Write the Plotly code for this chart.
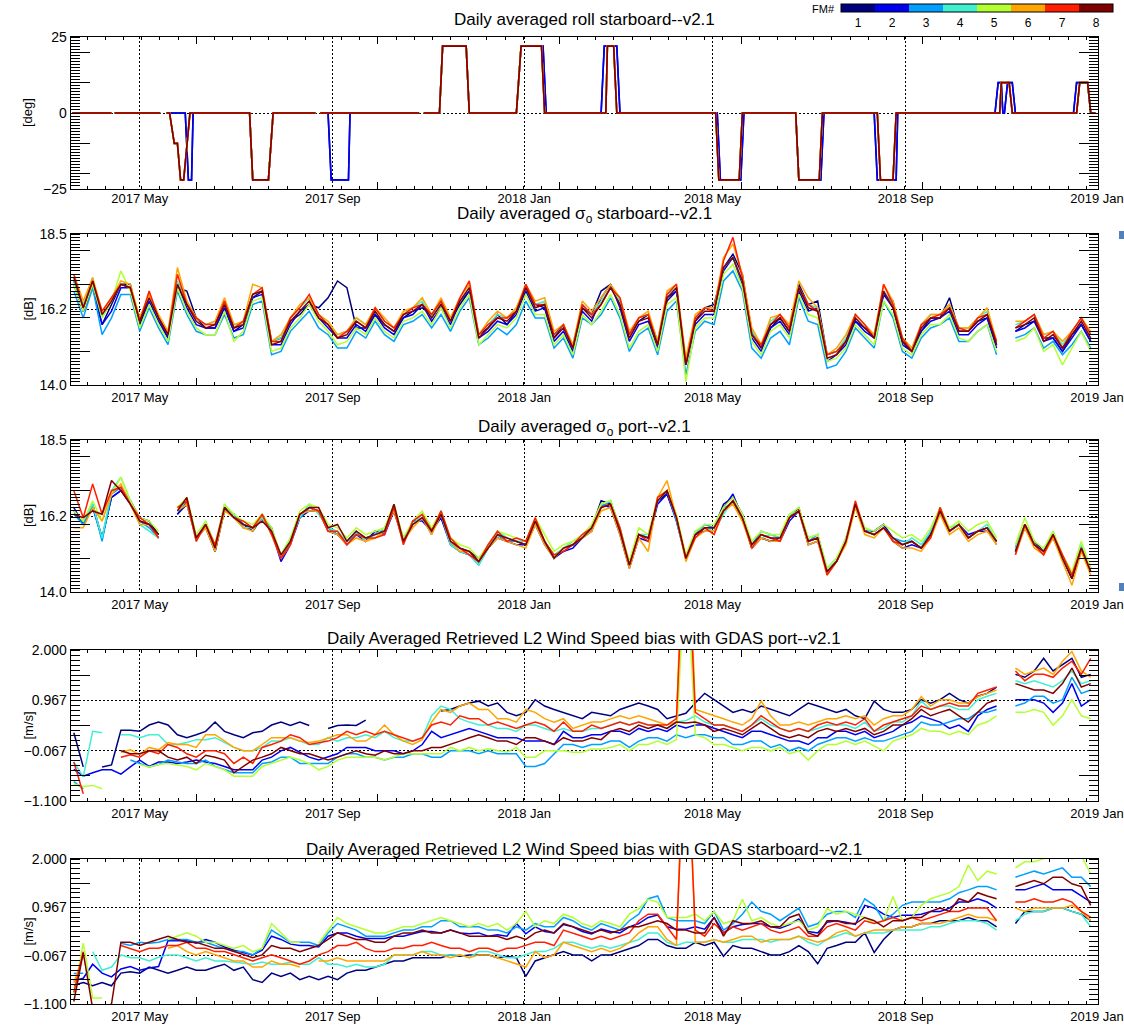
import plotly.graph_objects as go
import pandas as pd

N = None
W, H = 1124, 1025

# ---------------- categories / tick labels ----------------
fm_labels = ['1', '2', '3', '4', '5', '6', '7', '8']
fm_colors = ['#00007F', '#0000F0', '#00A0FF', '#40F0D0', '#B4FF32', '#FFA500', '#FF1E00', '#800000']
month_ticks = ['2017-05-01', '2017-09-01', '2018-01-01', '2018-05-01', '2018-09-01', '2019-01-01']
month_labels = ['2017 May', '2017 Sep', '2018 Jan', '2018 May', '2018 Sep', '2019 Jan']
x_range = ['2017-03-18', '2019-01-01 12:00']

# sampled days (every 6 days) for the noisy daily series
dates = pd.date_range('2017-03-20', periods=109, freq='6D')

# ---------------- roll (deg) ----------------
roll_dates_fm12 = ['2017-03-19', '2017-04-13', '2017-04-14', '2017-04-15', '2017-05-14', '2017-05-16', '2017-05-18', '2017-05-30', '2017-06-01', '2017-06-03',
                   '2017-06-04', '2017-07-10', '2017-07-12', '2017-07-22', '2017-07-25', '2017-08-21', '2017-08-22', '2017-08-24', '2017-08-29', '2017-08-31',
                   '2017-09-11', '2017-09-12', '2017-10-26', '2017-10-27', '2017-10-29', '2017-11-08', '2017-11-10', '2017-11-25', '2017-11-27', '2017-12-27',
                   '2017-12-30', '2018-01-13', '2018-01-15', '2018-02-19', '2018-02-21', '2018-03-01', '2018-03-03', '2018-05-04', '2018-05-06', '2018-05-19',
                   '2018-05-21', '2018-06-23', '2018-06-25', '2018-07-09', '2018-07-11', '2018-08-12', '2018-08-14', '2018-08-26', '2018-08-27', '2018-10-28',
                   '2018-10-30', '2018-11-01', '2018-11-02', '2018-11-03', '2018-11-05', '2018-11-08', '2018-11-10', '2018-12-17', '2018-12-19', '2018-12-26',
                   '2018-12-28', '2018-12-31']
roll_vals_fm12 = [0, 0, N, 0, 0, N, 0, 0, -22, -22,
                  0, 0, -22, -22, 0, 0, N, 0, 0, -22,
                  -22, 0, 0, N, 0, 0, 22, 22, 0, 0,
                  22, 22, 0, 0, 22, 22, 0, 0, -22, -22,
                  0, 0, -22, -22, 0, 0, -22, -22, 0, 0,
                  10, 10, 0, 0, 10, 10, 0, 0, 10, 10,
                  0, 0]
roll_dates_fm38 = ['2017-03-19', '2017-04-13', '2017-04-14', '2017-04-15', '2017-05-14', '2017-05-16', '2017-05-18', '2017-05-20', '2017-05-23', '2017-05-25',
                   '2017-05-27', '2017-05-29', '2017-06-02', '2017-07-10', '2017-07-12', '2017-07-22', '2017-07-25', '2017-08-21', '2017-08-22', '2017-08-24',
                   '2017-10-26', '2017-10-27', '2017-10-29', '2017-11-08', '2017-11-10', '2017-11-25', '2017-11-27', '2017-12-27', '2017-12-30', '2018-01-12',
                   '2018-01-14', '2018-02-22', '2018-02-23', '2018-02-27', '2018-03-01', '2018-05-03', '2018-05-05', '2018-05-18', '2018-05-20', '2018-06-23',
                   '2018-06-25', '2018-07-08', '2018-07-10', '2018-08-14', '2018-08-16', '2018-08-24', '2018-08-26', '2018-10-31', '2018-11-01', '2018-11-06',
                   '2018-11-08', '2018-12-19', '2018-12-21', '2018-12-26', '2018-12-28', '2018-12-31']
roll_vals_fm38 = [0, 0, N, 0, 0, N, 0, 0, -10, -10,
                  -22, -22, 0, 0, -22, -22, 0, 0, N, 0,
                  0, N, 0, 0, 22, 22, 0, 0, 22, 22,
                  0, 0, 22, 22, 0, 0, -22, -22, 0, 0,
                  -22, -22, 0, 0, -22, -22, 0, 0, 10, 10,
                  0, 0, 10, 10, 0, 0]

# ---------------- sigma0 starboard (dB) ----------------
sig_stbd_fm1 = [17.0,16.2,16.9,15.8,16.4,17.0,17.0,15.8,16.5,16.0,
                15.4,16.9,16.8,16.0,15.7,15.7,16.3,15.6,15.8,16.6,
                16.8,15.3,15.4,15.9,16.1,16.4,16.3,16.6,17.1,16.9,
                15.7,15.7,16.1,15.8,15.6,16.0,16.2,16.3,16.1,16.4,
                15.9,16.4,16.8,15.5,15.7,16.1,15.8,16.2,16.9,16.4,
                16.3,15.4,15.8,15.1,16.3,16.1,16.8,17.0,16.4,15.5,
                15.9,16.1,15.3,16.5,16.8,14.7,15.9,16.3,16.4,17.5,
                17.9,17.3,15.6,15.1,15.7,16.0,15.6,17.0,16.4,16.5,
                14.9,15.0,15.3,15.9,15.7,15.5,16.7,16.5,15.3,15.0,
                15.6,16.0,16.0,16.6,15.6,15.6,15.9,16.0,15.2,N,
                15.6,15.8,15.9,15.4,15.4,15.0,15.5,15.8,15.3]
sig_stbd_fm2 = [17.1,16.2,17.0,15.8,16.2,16.9,16.9,15.9,16.5,15.9,
                15.4,17.0,16.3,15.8,15.7,15.7,16.3,15.6,15.7,16.6,
                16.7,15.2,15.2,15.8,16.2,16.4,16.0,15.7,15.4,15.4,
                15.8,15.6,16.1,15.7,15.5,16.0,16.1,16.4,15.9,16.3,
                15.8,16.5,16.8,15.4,15.6,15.9,15.8,16.1,16.8,16.2,
                16.3,15.3,15.6,15.0,16.2,15.9,16.6,17.0,16.3,15.3,
                15.8,15.9,15.1,16.6,16.8,14.6,15.8,16.1,16.1,17.4,
                17.8,17.0,15.4,15.0,15.7,15.9,15.5,16.8,16.2,16.3,
                14.7,14.9,15.2,15.9,15.6,15.4,16.7,16.3,15.2,15.0,
                15.6,15.9,16.0,16.2,15.5,15.5,15.8,16.0,15.1,N,
                15.6,15.7,15.9,15.3,15.4,15.0,15.4,15.8,15.3]
sig_stbd_fm3 = [16.8,16.0,16.9,15.5,16.0,16.7,16.7,15.6,16.3,15.7,
                15.2,16.8,16.1,15.6,15.5,15.5,16.1,15.4,15.5,16.4,
                16.5,14.9,15.0,15.6,15.9,16.2,15.7,15.5,15.1,15.1,
                15.6,15.4,15.9,15.5,15.3,15.8,15.9,16.1,15.7,16.1,
                15.6,16.2,16.6,15.2,15.4,15.7,15.5,15.8,16.5,16.0,
                16.0,15.1,15.4,14.8,16.0,15.8,16.1,16.6,16.0,15.0,
                15.5,15.7,14.9,16.2,16.5,14.3,15.6,15.9,15.8,17.1,
                17.4,16.8,15.1,14.8,15.4,15.6,15.2,16.6,15.9,15.8,
                14.5,14.6,15.0,15.7,15.4,15.1,16.5,16.0,15.0,14.8,
                15.4,15.7,15.8,16.0,15.3,15.3,15.6,15.8,14.9,N,
                15.4,15.5,15.7,15.1,15.3,14.9,15.2,15.6,15.1]
sig_stbd_fm4 = [17.1,16.4,17.2,16.0,16.5,17.0,16.9,16.0,16.6,16.0,
                15.6,17.1,16.5,16.0,15.8,15.9,16.5,15.8,15.8,16.7,
                16.8,15.3,15.4,16.0,16.3,16.6,16.1,15.8,15.5,15.6,
                16.0,15.8,16.3,15.9,15.7,16.1,16.3,16.5,16.0,16.5,
                16.0,16.5,16.9,15.5,15.8,16.1,16.0,16.3,16.9,16.4,
                16.5,15.5,15.8,15.2,16.4,16.1,16.5,16.9,16.5,15.5,
                16.0,16.1,15.3,16.7,16.9,14.7,16.0,16.3,16.3,17.5,
                17.8,17.1,15.6,15.2,15.9,16.1,15.7,16.9,16.4,16.3,
                14.9,15.0,15.4,16.1,15.8,15.5,16.8,16.4,15.4,15.1,
                15.8,16.1,16.1,16.4,15.7,15.7,16.0,16.2,15.3,N,
                15.8,15.9,16.1,15.5,15.6,15.2,15.6,16.0,15.5]
sig_stbd_fm5 = [17.0,16.2,17.0,16.0,16.5,17.4,16.8,15.7,16.4,15.8,
                15.3,16.9,16.2,15.7,15.5,15.5,16.2,15.3,15.6,16.5,
                16.6,15.0,15.1,15.7,16.0,16.4,15.9,15.6,15.2,15.3,
                15.7,15.5,16.0,15.6,15.4,15.9,16.0,16.2,15.8,16.3,
                15.7,16.3,16.7,15.2,15.5,15.8,15.7,16.0,16.7,16.1,
                16.1,15.2,15.5,14.9,16.1,15.8,16.2,16.7,16.1,15.1,
                15.6,15.8,15.0,16.4,16.6,14.1,15.7,16.0,16.0,17.3,
                17.6,16.9,15.3,14.9,15.6,15.8,15.4,16.7,16.1,16.0,
                14.7,14.8,15.1,15.8,15.5,15.2,16.5,16.1,15.1,14.9,
                15.5,15.8,15.8,16.1,15.4,15.3,15.6,15.8,15.0,N,
                15.3,15.4,15.7,15.0,15.2,14.6,15.1,15.6,15.0]
sig_stbd_fm6 = [17.3,16.5,17.2,16.2,16.6,17.1,17.0,16.0,16.7,16.1,
                15.6,17.5,16.5,16.0,15.8,15.9,16.6,15.8,15.9,17.0,
                16.9,15.3,15.5,16.0,16.4,16.6,16.1,15.9,15.5,15.6,
                16.0,15.8,16.3,16.0,15.7,16.2,16.3,16.6,16.1,16.6,
                16.0,16.6,17.0,15.5,15.9,16.2,16.0,16.3,17.0,16.5,
                16.6,15.6,15.8,15.2,16.5,16.2,16.6,17.0,16.6,15.6,
                16.0,16.2,15.3,16.8,17.0,14.8,16.1,16.3,16.3,17.8,
                18.2,17.3,15.7,15.2,16.0,16.1,15.8,17.1,16.6,16.3,
                14.9,15.1,15.5,16.1,15.8,15.5,17.0,16.5,15.4,15.1,
                15.8,16.1,16.1,16.4,15.7,15.7,16.0,16.3,15.3,N,
                15.9,15.9,16.1,15.5,15.6,15.3,15.6,16.0,15.6]
sig_stbd_fm7 = [17.3,16.3,17.1,16.2,16.6,17.0,16.9,15.9,16.8,16.0,
                15.5,17.3,16.4,16.0,15.8,15.8,16.5,15.7,15.9,16.7,
                16.9,15.3,15.3,16.0,16.3,16.7,16.1,15.8,15.4,15.6,
                15.9,15.7,16.3,15.9,15.7,16.1,16.3,16.4,16.1,16.5,
                15.9,16.6,17.1,15.5,15.8,16.0,16.0,16.2,17.0,16.4,
                16.4,15.5,15.8,15.1,16.4,16.1,16.4,16.9,16.6,15.5,
                16.0,16.1,15.2,16.7,17.0,14.6,16.0,16.3,16.2,17.7,
                18.4,17.2,15.5,15.2,15.8,16.1,15.7,16.9,16.4,16.2,
                14.9,15.0,15.3,16.1,15.8,15.4,17.0,16.4,15.4,15.0,
                15.8,16.0,16.1,16.3,15.7,15.6,16.0,16.1,15.3,N,
                15.7,15.9,16.1,15.4,15.6,15.1,15.6,16.0,15.5]
sig_stbd_fm8 = [17.2,16.3,17.1,16.1,16.5,17.0,16.9,15.9,16.6,16.0,
                15.5,17.0,16.4,15.9,15.7,15.8,16.4,15.7,15.8,16.7,
                16.8,15.2,15.3,15.9,16.2,16.5,16.0,15.8,15.4,15.5,
                15.9,15.7,16.2,15.8,15.6,16.1,16.2,16.4,16.0,16.4,
                15.9,16.5,16.9,15.4,15.7,16.0,15.9,16.2,16.9,16.3,
                16.4,15.4,15.7,15.1,16.3,16.0,16.4,16.9,16.4,15.4,
                15.9,16.0,15.2,16.6,16.9,14.6,15.9,16.2,16.2,17.5,
                17.8,17.1,15.5,15.1,15.8,16.0,15.6,16.9,16.3,16.2,
                14.8,14.9,15.3,16.0,15.7,15.4,16.8,16.3,15.3,15.0,
                15.7,16.0,16.0,16.3,15.6,15.6,15.9,16.1,15.2,N,
                15.7,15.8,16.0,15.3,15.5,15.1,15.5,15.9,15.4]

# ---------------- sigma0 port (dB) ----------------
sig_port_fm1 = [16.4,16.0,16.6,15.6,16.8,17.0,16.7,16.2,16.1,15.7,
                N,16.3,16.6,15.6,16.0,15.2,16.4,16.3,16.0,15.8,
                16.2,15.9,15.0,15.5,16.2,16.5,16.4,15.9,15.7,15.5,
                15.8,15.5,15.8,15.8,16.4,15.6,16.0,16.2,15.9,16.2,
                15.5,15.3,15.2,15.0,15.3,15.7,15.5,15.5,15.4,16.0,
                15.5,15.0,15.3,15.4,15.6,15.9,16.7,16.6,15.8,14.8,
                15.7,15.6,16.7,16.9,16.2,15.0,15.7,15.9,15.9,16.6,
                16.8,16.3,15.3,15.6,15.5,15.6,16.2,16.5,15.5,15.6,
                14.6,14.9,15.5,16.6,15.8,15.8,16.0,15.6,15.4,15.5,
                15.3,15.7,16.5,15.8,16.0,15.6,15.8,15.9,15.5,N,
                15.3,16.0,15.5,15.2,15.7,15.0,14.4,15.2,14.7]
sig_port_fm2 = [16.5,16.0,16.5,15.6,16.8,17.0,16.6,16.1,16.0,15.6,
                N,16.3,16.7,15.6,15.9,15.2,16.5,16.3,15.9,15.9,
                16.3,15.8,14.9,15.4,16.2,16.4,16.4,15.8,15.7,15.4,
                15.7,15.5,15.8,15.7,16.4,15.5,16.1,16.1,15.8,16.2,
                15.4,15.2,15.1,14.9,15.3,15.6,15.5,15.4,15.4,16.0,
                15.4,15.0,15.2,15.3,15.6,15.8,16.6,16.5,15.7,14.7,
                15.6,15.5,16.6,16.9,16.1,15.0,15.7,15.8,15.8,16.5,
                16.9,16.2,15.3,15.6,15.5,15.5,16.1,16.4,15.4,15.5,
                14.6,14.9,15.5,16.6,15.8,15.8,16.0,15.5,15.3,15.4,
                15.3,15.7,16.4,15.8,16.0,15.7,15.8,15.8,15.5,N,
                15.2,15.9,15.4,15.2,15.6,15.0,14.4,15.3,14.7]
sig_port_fm3 = [16.3,16.0,16.6,15.5,16.9,17.1,16.7,16.1,15.9,15.6,
                N,16.4,16.6,15.6,16.0,15.3,16.4,16.3,16.0,15.9,
                16.2,15.8,15.0,15.5,16.2,16.5,16.4,15.9,15.7,15.5,
                15.7,15.6,15.7,15.8,16.6,15.5,16.0,16.2,15.7,16.4,
                15.5,15.2,15.1,14.8,15.3,15.7,15.5,15.5,15.4,16.1,
                15.5,15.0,15.3,15.4,15.6,15.9,16.5,16.7,15.9,14.8,
                15.7,15.6,16.7,17.0,16.1,15.0,15.7,16.0,15.9,16.5,
                16.6,16.3,15.4,15.8,15.7,15.6,16.2,16.4,15.5,15.7,
                14.6,14.9,15.6,16.5,15.8,15.7,15.9,15.6,15.5,15.5,
                15.3,15.8,16.4,15.8,16.0,15.6,15.8,15.9,15.4,N,
                15.2,16.0,15.4,15.2,15.7,15.0,14.5,15.3,14.6]
sig_port_fm4 = [16.4,16.1,16.6,15.6,17.0,17.4,16.7,16.0,15.8,15.6,
                N,16.4,16.7,15.5,16.1,15.3,16.6,16.2,15.9,15.9,
                16.2,15.8,15.1,15.6,16.2,16.6,16.3,15.9,15.8,15.5,
                15.8,15.5,15.7,15.9,16.5,15.5,16.0,16.3,15.8,16.3,
                15.4,15.2,15.1,14.8,15.3,15.8,15.6,15.5,15.5,16.1,
                15.5,15.1,15.3,15.5,15.6,15.9,16.6,16.7,15.8,14.9,
                15.7,15.7,16.7,17.0,16.2,15.0,15.8,15.9,15.8,16.3,
                16.7,16.1,15.4,15.6,15.7,15.6,16.3,16.4,15.6,15.7,
                14.7,15.0,15.5,16.6,15.9,15.7,15.9,15.6,15.4,15.6,
                15.4,15.8,16.4,15.9,16.0,15.6,15.8,16.0,15.5,N,
                15.3,16.0,15.4,15.2,15.8,15.0,14.5,15.4,14.6]
sig_port_fm5 = [16.4,16.1,16.7,16.1,16.9,17.4,16.7,16.2,16.1,15.8,
                N,16.5,16.8,15.7,16.1,15.4,16.6,16.3,16.1,16.0,
                16.3,15.9,15.1,15.6,16.4,16.6,16.5,16.0,15.9,15.6,
                15.9,15.7,15.8,15.9,16.6,15.6,16.1,16.4,15.9,16.4,
                15.6,15.4,15.3,15.0,15.4,15.8,15.7,15.6,15.5,16.2,
                15.7,15.2,15.4,15.5,15.7,16.0,16.6,16.7,15.9,14.9,
                15.9,15.7,16.8,17.0,16.3,15.1,15.8,16.0,16.0,16.5,
                16.8,16.3,15.5,15.8,15.7,15.7,16.3,16.5,15.6,15.7,
                14.7,15.0,15.6,16.6,15.9,15.8,16.0,15.8,15.6,15.7,
                15.5,15.9,16.5,15.9,16.1,15.8,16.0,16.1,15.6,N,
                15.4,16.2,15.5,15.3,15.8,15.1,14.6,15.5,14.7]
sig_port_fm6 = [15.9,15.9,16.5,16.1,16.9,17.2,16.6,16.0,16.0,15.6,
                N,16.4,16.6,15.6,15.9,15.2,16.4,16.2,15.9,15.8,
                16.3,15.7,15.0,15.4,16.3,16.4,16.4,15.8,15.7,15.4,
                15.6,15.5,15.6,15.8,16.4,15.5,15.9,16.2,15.7,16.3,
                15.5,15.2,15.2,14.9,15.3,15.6,15.5,15.4,15.3,16.0,
                15.4,15.0,15.3,15.4,15.6,15.8,16.4,16.5,15.7,14.7,
                15.6,15.2,16.8,17.3,16.2,14.9,15.6,15.8,15.8,16.4,
                16.6,16.1,15.3,15.6,15.5,15.5,16.2,16.4,15.4,15.5,
                14.5,14.9,15.4,16.5,15.7,15.6,15.9,15.5,15.3,15.3,
                15.2,15.6,16.3,15.7,15.9,15.5,15.7,15.8,15.4,N,
                15.1,15.9,15.3,15.1,15.6,14.9,14.2,15.2,14.5]
sig_port_fm7 = [17.0,16.2,17.2,16.3,17.0,17.1,16.6,16.2,16.0,15.6,
                N,16.5,16.7,15.5,16.0,15.4,16.5,16.2,16.1,15.9,
                16.3,15.7,15.0,15.4,16.3,16.5,16.4,15.8,15.8,15.4,
                15.7,15.6,15.6,15.7,16.5,15.4,16.1,16.3,15.8,16.4,
                15.6,15.3,15.1,14.9,15.4,15.8,15.5,15.6,15.5,16.2,
                15.5,15.1,15.2,15.4,15.7,15.9,16.5,16.6,15.9,14.8,
                15.7,15.5,16.8,17.0,16.2,15.0,15.6,15.9,15.7,16.4,
                16.7,16.2,15.3,15.7,15.6,15.5,16.2,16.4,15.5,15.6,
                14.5,14.9,15.5,16.7,15.8,15.7,15.9,15.5,15.4,15.5,
                15.3,15.6,16.5,15.8,16.0,15.6,15.8,15.9,15.5,N,
                15.1,16.0,15.4,15.1,15.7,15.1,14.5,15.3,14.6]
sig_port_fm8 = [16.3,16.2,16.4,16.3,17.3,17.0,16.6,16.1,16.0,15.7,
                N,16.4,16.8,15.6,16.0,15.3,16.5,16.2,16.0,15.9,
                16.1,15.8,15.1,15.5,16.3,16.5,16.5,15.9,16.0,15.5,
                15.8,15.6,15.7,15.8,16.6,15.5,16.0,16.2,15.8,16.3,
                15.5,15.3,15.2,14.9,15.3,15.7,15.6,15.5,15.4,16.1,
                15.5,15.0,15.3,15.4,15.6,15.9,16.5,16.6,15.8,14.8,
                15.7,15.6,16.7,17.0,16.2,15.0,15.7,15.9,15.9,16.4,
                16.7,16.2,15.4,15.7,15.6,15.6,16.2,16.4,15.5,15.6,
                14.6,14.9,15.5,16.6,15.8,15.7,15.9,15.6,15.4,15.5,
                15.3,15.7,16.4,15.8,16.0,15.6,15.8,15.9,15.5,N,
                15.2,16.0,15.4,15.2,15.7,15.0,14.4,15.3,14.6]

# ---------------- wind speed bias port (m/s) ----------------
ws_port_fm1 = [0.30,-0.40,N,-0.40,-0.36,0.35,0.35,0.33,0.46,0.52,
               0.46,0.26,0.20,0.26,0.33,0.52,0.33,0.26,0.20,0.30,
               0.33,0.46,0.52,0.45,0.52,0.45,N,0.39,0.45,0.46,
               0.45,0.56,N,N,N,N,N,N,N,0.75,
               0.78,0.85,0.91,0.95,0.85,0.91,0.72,0.65,0.72,0.98,
               0.85,0.78,0.72,0.65,0.59,0.72,0.69,0.65,0.78,0.85,
               0.91,0.85,0.78,0.59,0.65,0.70,0.91,1.11,0.98,0.85,
               0.72,0.78,0.72,0.85,0.78,0.72,0.65,0.78,0.91,0.85,
               0.78,0.72,0.78,0.65,0.59,0.95,0.78,0.72,0.72,0.78,
               0.98,0.91,0.98,1.11,0.98,0.91,1.05,1.11,1.24,N,
               1.50,1.44,1.57,1.83,1.57,1.70,1.83,1.44,1.50]
ws_port_fm2 = [-0.45,-0.59,-0.52,-0.46,-0.46,-0.55,-0.40,-0.26,-0.39,-0.30,
               -0.30,-0.33,-0.30,-0.26,-0.30,-0.33,-0.39,-0.46,-0.46,-0.46,
               -0.26,-0.20,-0.07,0.00,-0.10,-0.20,-0.26,-0.20,-0.13,0.00,
               0.00,0.00,-0.07,-0.07,-0.07,-0.13,-0.07,0.06,0.33,0.20,
               0.26,0.33,0.39,0.33,0.26,0.20,0.20,0.20,0.13,0.13,
               0.13,0.06,0.33,0.20,0.20,0.26,0.26,0.33,0.33,0.26,
               0.39,0.33,0.39,0.33,0.46,0.40,0.46,0.46,0.39,0.33,
               0.26,0.20,0.33,0.33,0.26,0.20,0.13,0.13,0.06,0.20,
               0.20,0.33,0.33,0.26,0.33,0.20,0.26,0.33,0.46,0.52,
               0.65,0.59,0.52,0.39,0.46,0.33,0.65,0.78,0.85,N,
               0.98,0.98,0.98,0.91,0.72,0.91,1.31,0.85,0.98]
ws_port_fm3 = [-0.70,-0.85,N,N,N,N,-0.26,-0.33,-0.40,-0.35,
               -0.26,-0.30,-0.33,-0.33,-0.26,-0.39,-0.46,-0.52,-0.52,-0.52,
               -0.33,-0.30,-0.20,-0.20,-0.33,-0.33,-0.33,-0.33,-0.20,-0.13,
               -0.13,-0.20,-0.20,-0.26,-0.20,-0.20,-0.13,-0.13,-0.20,-0.20,
               -0.07,-0.07,-0.07,-0.13,-0.07,-0.13,-0.13,-0.13,-0.39,-0.39,
               -0.33,-0.13,0.06,0.06,0.00,0.06,0.06,0.13,0.13,0.00,
               0.13,0.20,0.20,0.13,0.26,0.20,0.26,0.26,0.20,0.20,
               0.06,0.06,0.13,0.13,0.00,0.06,-0.07,0.00,-0.07,0.06,
               0.13,0.20,0.20,0.13,0.20,0.13,0.13,0.20,0.26,0.33,
               0.52,0.46,0.46,0.52,0.59,0.59,0.72,0.72,0.78,N,
               0.85,0.91,1.05,1.05,0.91,0.98,1.44,1.11,1.18]
ws_port_fm4 = [-0.30,-0.60,0.33,0.30,N,0.26,0.26,0.20,0.26,0.26,
               0.06,0.06,0.10,0.16,0.16,0.20,0.10,0.00,-0.07,-0.07,
               0.00,0.13,0.13,0.20,0.13,0.06,0.06,0.20,0.13,0.20,
               0.20,0.26,0.20,0.33,0.20,0.13,0.13,0.20,0.65,0.85,
               0.78,0.59,0.52,0.46,0.46,0.39,0.39,0.33,0.46,0.46,
               0.39,0.33,0.39,0.33,0.33,0.39,0.39,0.46,0.52,0.46,
               0.52,0.46,0.46,0.39,0.52,0.55,0.65,0.52,0.46,0.46,
               0.39,0.33,0.46,0.59,0.46,0.39,0.33,0.39,0.33,0.39,
               0.46,0.46,0.46,0.39,0.52,0.33,0.39,0.52,0.52,0.65,
               0.95,0.78,0.85,0.85,0.78,0.78,0.98,1.05,1.11,N,
               1.37,1.31,1.37,1.31,1.24,1.37,1.57,1.31,1.37]
ws_port_fm5 = [-0.75,-0.80,-0.78,-0.85,N,N,N,-0.35,-0.40,-0.35,
               -0.33,-0.36,-0.39,-0.46,-0.33,-0.39,-0.46,-0.59,-0.59,-0.59,
               -0.39,-0.33,-0.26,-0.20,-0.26,-0.33,-0.46,-0.39,-0.26,-0.20,
               -0.20,-0.20,-0.20,-0.26,-0.20,-0.13,-0.13,-0.13,-0.13,-0.13,
               0.00,-0.07,0.00,-0.07,-0.03,-0.07,-0.10,0.00,-0.20,-0.20,
               -0.07,-0.07,-0.07,-0.10,-0.10,-0.03,-0.03,0.00,0.06,-0.07,
               0.06,0.06,0.13,0.06,0.16,4.00,0.26,0.20,0.06,0.06,
               0.00,-0.07,0.00,0.00,-0.07,0.00,-0.13,-0.07,-0.26,-0.07,
               0.06,0.06,0.13,0.06,0.13,0.03,-0.07,0.13,0.20,0.26,
               0.39,0.33,0.33,0.26,0.33,0.26,0.46,0.52,0.65,N,
               0.72,0.72,0.78,0.72,0.46,0.65,0.98,0.65,0.59]
ws_port_fm6 = [0.05,N,N,N,N,-0.10,-0.05,-0.15,0.00,-0.05,
               0.10,0.06,0.06,0.00,0.26,0.26,0.13,0.00,-0.07,-0.07,
               0.06,0.20,0.20,0.20,0.13,0.10,0.13,0.20,0.26,0.26,
               0.13,0.13,0.26,0.46,0.26,0.13,0.06,0.16,0.52,0.78,
               0.72,0.85,0.91,0.78,0.78,0.59,0.59,0.52,0.78,0.72,
               0.59,0.52,0.59,0.39,0.46,0.52,0.52,0.59,0.65,0.59,
               0.65,0.59,0.52,0.46,0.52,6.00,0.78,0.72,0.65,0.59,
               0.52,0.46,0.59,0.95,0.65,0.46,0.46,0.52,0.46,0.52,
               0.59,0.59,0.65,0.59,0.65,0.46,0.59,0.65,0.65,0.78,
               1.04,0.85,0.98,0.98,0.91,0.91,1.04,1.11,1.18,N,
               1.63,1.50,1.57,1.63,1.50,1.77,1.97,1.57,1.44]
ws_port_fm7 = [-0.30,-0.95,N,N,N,-0.20,-0.15,-0.20,-0.07,-0.13,
               0.06,0.00,-0.13,-0.20,-0.07,-0.07,-0.13,-0.33,-0.20,-0.33,
               0.00,0.06,0.13,0.26,0.20,0.06,0.10,0.13,0.20,0.33,
               0.26,0.33,0.26,0.33,0.26,0.20,0.13,0.20,0.46,0.52,
               0.46,0.65,0.59,0.59,0.46,0.52,0.46,0.39,0.46,0.52,
               0.46,0.33,0.52,0.33,0.33,0.46,0.39,0.46,0.52,0.46,
               0.52,0.46,0.46,0.46,0.59,5.00,0.72,0.59,0.46,0.46,
               0.39,0.33,0.46,0.65,0.52,0.39,0.33,0.39,0.33,0.46,
               0.52,0.46,0.52,0.46,0.59,0.33,0.46,0.52,0.59,0.65,
               0.85,0.78,0.85,0.91,0.85,0.85,1.11,1.18,1.24,N,
               1.57,1.37,1.50,1.50,1.44,1.63,1.77,1.50,1.83]
ws_port_fm8 = [N,N,N,N,N,-0.07,-0.13,-0.13,-0.07,-0.07,
               -0.20,-0.26,-0.20,-0.33,-0.16,-0.20,-0.26,-0.52,-0.39,-0.26,
               -0.20,-0.13,0.00,-0.07,-0.13,-0.13,-0.20,-0.26,-0.20,-0.13,
               -0.07,-0.13,-0.16,-0.07,-0.13,-0.13,-0.07,-0.07,0.00,0.00,
               0.06,0.13,0.20,0.26,0.20,0.13,0.13,0.06,0.20,0.20,
               0.13,0.06,0.20,0.13,0.13,0.20,0.16,0.33,0.39,0.33,
               0.46,0.39,0.46,0.39,0.52,0.50,0.52,0.46,0.33,0.39,
               0.33,0.26,0.39,0.52,0.39,0.26,0.20,0.26,0.20,0.33,
               0.39,0.33,0.39,0.33,0.39,0.26,0.33,0.46,0.46,0.59,
               0.78,0.65,0.72,0.78,0.65,0.52,0.72,0.91,0.98,N,
               1.31,1.24,1.18,1.18,1.11,1.31,1.63,1.24,1.31]

# ---------------- wind speed bias starboard (m/s) ----------------
ws_stbd_fm1 = [-0.70,-0.64,-0.71,-0.64,-0.71,-0.44,-0.41,-0.44,-0.31,-0.38,
               -0.44,-0.38,-0.31,-0.38,-0.38,-0.31,-0.25,-0.38,-0.31,-0.58,
               -0.64,-0.44,-0.51,-0.44,-0.58,-0.51,-0.58,-0.51,-0.58,-0.44,
               -0.38,-0.38,-0.31,-0.25,-0.18,-0.18,-0.11,-0.11,-0.11,-0.11,
               -0.05,-0.08,-0.05,-0.05,-0.05,-0.11,-0.08,-0.11,-0.51,-0.18,
               -0.11,-0.05,0.02,-0.05,-0.05,-0.18,-0.05,-0.05,0.02,0.09,
               0.15,0.28,0.28,0.15,0.09,0.09,0.22,0.15,0.22,-0.08,
               0.15,0.09,0.09,0.02,-0.05,-0.05,0.02,0.15,0.02,-0.24,
               0.09,0.15,0.22,0.22,0.42,0.00,0.28,0.48,0.55,0.55,
               0.62,0.62,0.68,0.68,0.68,0.75,0.68,0.68,0.55,N,
               0.62,0.88,0.88,0.88,0.95,0.95,0.88,0.82,0.68]
ws_stbd_fm2 = [-0.60,-0.55,-0.25,-0.44,-0.52,-0.35,-0.30,-0.38,-0.33,-0.30,
               0.25,0.25,0.25,0.20,0.28,0.22,0.12,0.05,0.00,-0.05,
               0.05,0.35,0.28,0.18,0.15,0.15,0.12,0.35,0.42,0.42,
               0.35,0.30,0.30,0.30,0.35,0.35,0.40,0.45,0.45,0.42,
               0.48,0.42,0.40,0.42,0.35,0.38,0.35,0.62,0.40,0.55,
               0.45,0.42,0.60,0.55,0.45,0.40,0.50,0.45,0.42,0.55,
               0.62,0.75,0.80,0.55,0.50,0.50,0.55,0.50,0.75,0.42,
               0.55,0.60,0.62,0.62,0.55,0.52,0.60,0.72,0.45,0.42,
               0.65,0.68,0.65,0.60,1.01,0.95,0.82,0.75,0.80,0.80,
               0.82,0.88,0.88,0.95,1.08,1.08,1.15,1.08,0.95,N,
               1.34,1.34,1.41,1.47,1.34,1.34,1.34,1.21,1.08]
ws_stbd_fm3 = [-0.45,-0.44,N,N,N,0.20,0.15,0.22,0.20,0.22,
               0.28,0.28,0.28,0.22,0.22,0.15,0.09,0.02,0.02,-0.05,
               0.09,0.48,0.35,0.22,0.22,0.22,0.15,0.42,0.62,0.55,
               0.48,0.35,0.35,0.35,0.42,0.48,0.48,0.55,0.55,0.68,
               0.68,0.55,0.55,0.55,0.48,0.48,0.42,0.55,0.48,0.62,
               0.55,0.55,0.75,0.68,0.55,0.48,0.62,0.55,0.48,0.68,
               0.82,1.15,1.21,0.75,0.68,0.68,0.68,0.62,0.88,0.48,
               0.62,0.82,1.08,0.88,0.82,0.68,0.82,0.95,0.55,0.62,
               0.82,0.88,0.88,0.75,1.15,1.01,0.68,0.82,1.01,1.08,
               1.08,1.08,1.08,1.15,1.28,1.34,1.41,1.41,1.34,N,
               1.61,1.68,1.74,1.68,1.74,1.81,1.61,1.61,1.41]
ws_stbd_fm4 = [N,N,0.02,-0.38,-0.31,-0.05,-0.11,-0.11,-0.18,-0.10,
               -0.05,-0.05,-0.11,-0.18,-0.11,-0.18,-0.18,-0.20,-0.22,-0.25,
               -0.20,-0.25,-0.25,-0.20,-0.25,-0.25,-0.11,-0.25,-0.25,-0.31,
               -0.25,-0.31,-0.31,-0.25,-0.05,-0.05,-0.05,0.02,0.02,-0.05,
               -0.05,-0.05,-0.11,0.02,0.02,-0.05,-0.11,-0.11,-0.05,0.02,
               0.02,0.09,0.22,0.22,0.15,0.09,0.15,0.09,0.15,0.22,
               0.28,0.42,0.42,0.22,0.15,0.22,0.22,0.22,0.28,0.22,
               0.22,0.28,0.28,0.28,0.22,0.28,0.28,0.35,0.22,0.15,
               0.28,0.35,0.42,0.35,0.42,0.42,0.42,0.48,0.48,0.48,
               0.48,0.55,0.55,0.62,0.68,0.68,0.68,0.62,0.48,N,
               0.68,0.82,0.88,0.88,0.95,0.95,0.88,0.82,0.55]
ws_stbd_fm5 = [-0.90,0.20,-0.97,-0.97,N,N,N,N,N,N,
               0.28,0.35,0.42,0.35,0.22,0.22,0.15,0.09,0.15,0.02,
               0.09,0.62,0.42,0.22,0.22,N,0.20,0.48,0.75,0.62,
               0.55,0.48,0.42,0.42,0.48,0.55,0.55,0.62,0.68,0.75,
               0.68,0.62,0.55,0.62,0.55,0.62,0.48,0.62,0.88,0.55,
               0.68,0.62,0.82,0.75,0.62,0.55,0.68,0.62,0.55,0.82,
               0.94,1.14,1.08,0.75,0.75,0.75,0.82,0.68,0.88,0.62,
               0.68,1.14,0.68,0.75,0.62,0.55,0.62,0.68,0.48,0.55,
               0.94,0.82,0.88,0.82,0.75,0.62,0.68,1.20,0.68,0.75,
               1.01,1.15,1.21,1.28,1.41,1.87,1.54,1.74,1.68,N,
               1.81,1.94,1.94,2.00,2.07,2.14,2.00,2.07,1.68]
ws_stbd_fm6 = [-0.65,-0.05,N,N,N,N,0.02,N,N,N,
               0.09,0.15,0.02,-0.05,0.02,-0.05,-0.11,-0.18,-0.18,-0.31,
               -0.31,-0.18,-0.25,-0.25,-0.31,N,-0.18,-0.18,-0.11,-0.18,
               -0.18,-0.18,-0.18,-0.18,-0.05,-0.05,-0.05,0.02,-0.05,-0.05,
               -0.11,-0.05,-0.11,-0.05,-0.05,-0.11,-0.18,-0.25,-0.31,0.02,
               -0.11,-0.05,0.22,0.15,0.09,0.02,0.09,0.02,0.09,0.22,
               0.42,0.55,0.55,0.28,0.15,6.00,0.22,0.22,0.28,0.22,
               0.28,0.35,0.35,0.22,0.28,0.28,0.28,0.35,0.28,0.22,
               0.28,0.42,0.48,0.35,0.42,0.48,0.48,0.48,0.55,0.55,
               0.62,0.62,0.62,0.68,0.75,0.82,0.75,0.75,0.68,N,
               0.95,0.88,0.95,0.95,0.95,0.95,1.01,0.88,0.68]
ws_stbd_fm7 = [-0.85,0.02,N,N,N,0.15,0.09,0.02,0.09,0.09,
               0.15,0.15,0.22,0.09,0.09,0.02,0.02,-0.05,-0.11,-0.18,
               -0.11,-0.05,-0.11,-0.18,-0.25,-0.18,-0.05,0.02,0.15,0.15,
               0.22,0.09,0.02,0.02,0.09,0.09,0.15,0.15,0.22,0.15,
               0.09,0.09,0.02,0.09,0.09,0.02,0.09,0.09,0.15,0.22,
               0.22,0.15,0.48,0.42,0.35,0.28,0.35,0.28,0.35,0.42,
               0.68,0.82,0.82,0.55,0.28,5.00,0.48,0.35,0.62,0.42,
               0.55,0.48,0.55,0.62,0.48,0.42,0.48,0.55,0.35,0.35,
               0.55,0.62,0.55,0.48,0.68,0.62,0.68,0.75,0.68,0.75,
               0.68,0.75,0.82,0.88,0.88,0.95,0.95,0.95,0.68,N,
               1.08,1.08,1.15,1.08,1.08,1.15,1.08,0.88,0.75]
ws_stbd_fm8 = [-1.05,0.00,-1.20,-1.20,-1.10,0.22,0.22,0.15,0.22,0.28,
               0.35,0.28,0.22,0.22,0.15,0.09,0.09,0.02,-0.05,-0.11,
               -0.05,0.15,0.09,0.09,0.02,0.09,0.15,0.28,0.42,0.35,
               0.28,0.28,0.22,0.22,0.35,0.42,0.42,0.48,0.42,0.42,
               0.48,0.42,0.35,0.35,0.35,0.35,0.28,0.35,0.28,0.42,
               0.48,0.42,0.62,0.55,0.48,0.42,0.48,0.42,0.48,0.55,
               0.55,0.62,0.68,0.62,0.48,0.48,0.42,0.42,0.75,0.35,
               0.68,0.62,0.62,0.68,0.55,0.55,0.75,0.82,0.42,0.35,
               0.68,0.68,0.62,0.62,0.75,0.68,0.55,0.68,0.68,0.75,
               0.75,0.88,0.95,0.88,1.15,1.08,1.28,1.21,1.15,N,
               1.41,1.47,1.54,1.47,1.61,1.61,1.47,1.41,1.01]

sig_stbd = [sig_stbd_fm1, sig_stbd_fm2, sig_stbd_fm3, sig_stbd_fm4, sig_stbd_fm5, sig_stbd_fm6, sig_stbd_fm7, sig_stbd_fm8]
sig_port = [sig_port_fm1, sig_port_fm2, sig_port_fm3, sig_port_fm4, sig_port_fm5, sig_port_fm6, sig_port_fm7, sig_port_fm8]
ws_port = [ws_port_fm1, ws_port_fm2, ws_port_fm3, ws_port_fm4, ws_port_fm5, ws_port_fm6, ws_port_fm7, ws_port_fm8]
ws_stbd = [ws_stbd_fm1, ws_stbd_fm2, ws_stbd_fm3, ws_stbd_fm4, ws_stbd_fm5, ws_stbd_fm6, ws_stbd_fm7, ws_stbd_fm8]

# y-axis labels / ticks per panel
roll_ticks, roll_text = [-25, 0, 25], ['\u221225', '0', '25']
sig_ticks, sig_text = [14.0, 16.25, 18.5], ['14.0', '16.2', '18.5']
ws_ticks, ws_text = [-1.1, -0.0667, 0.9667, 2.0], ['\u22121.100', '\u22120.067', '0.967', '2.000']

FONT = 'Liberation Sans, Arial, Helvetica, sans-serif'
XL, XR = 70.7, 1097.8

panels = [
    dict(title='Daily averaged roll starboard--v2.1', unit='[deg]', top=37, bot=189, ty=19, lab_off=-3,
         yr=[-25, 25], tv=roll_ticks, tt=roll_text, long=[-20, -10, 10, 20], m0=0, md=1),
    dict(title='Daily averaged \u03c3<sub>o</sub> starboard--v2.1', unit='[dB]', top=234, bot=385, ty=215, lab_off=0,
         yr=[14.0, 18.5], tv=sig_ticks, tt=sig_text, long=[15, 16, 17, 18], m0=14.0, md=0.1),
    dict(title='Daily averaged \u03c3<sub>o</sub> port--v2.1', unit='[dB]', top=440, bot=592, ty=428, lab_off=0,
         yr=[14.0, 18.5], tv=sig_ticks, tt=sig_text, long=[15, 16, 17, 18], m0=14.0, md=0.1),
    dict(title='Daily Averaged Retrieved L2 Wind Speed bias with GDAS port--v2.1', unit='[m/s]', top=650, bot=801, ty=638, lab_off=0,
         yr=[-1.1, 2.0], tv=ws_ticks, tt=ws_text, long=[-0.5833, 0.45, 1.4833], m0=-1.1, md=3.1 / 30),
    dict(title='Daily Averaged Retrieved L2 Wind Speed bias with GDAS starboard--v2.1', unit='[m/s]', top=859, bot=1004, ty=849, lab_off=0,
         yr=[-1.1, 2.0], tv=ws_ticks, tt=ws_text, long=[-0.5833, 0.45, 1.4833], m0=-1.1, md=3.1 / 30),
]

fig = go.Figure()


def axn(prefix, n):
    return prefix if n == 1 else f'{prefix}{n}'


# roll panel
for i in range(8):
    if i < 2:
        xs, ys = roll_dates_fm12, roll_vals_fm12
    else:
        xs, ys = roll_dates_fm38, roll_vals_fm38
    fig.add_trace(go.Scatter(x=xs, y=ys, mode='lines', line=dict(color=fm_colors[i], width=1.6),
                             connectgaps=False, showlegend=False, hoverinfo='skip', xaxis='x', yaxis='y'))

series_by_panel = {2: sig_stbd, 3: sig_port, 4: ws_port, 5: ws_stbd}
for n, group in series_by_panel.items():
    for i, arr in enumerate(group):
        fig.add_trace(go.Scatter(x=list(dates[:len(arr)]), y=arr, mode='lines',
                                 line=dict(color=fm_colors[i], width=1.5), connectgaps=False,
                                 showlegend=False, hoverinfo='skip',
                                 xaxis=axn('x', n), yaxis=axn('y', n)))

# legend colour bar (FM#)
cs = []
for i, c in enumerate(fm_colors):
    cs.append([i / 8, c])
    cs.append([(i + 1) / 8, c])
fig.add_trace(go.Scatter(x=[None], y=[None], mode='markers', showlegend=False, hoverinfo='skip',
                         marker=dict(color=[1, 2, 3, 4, 5, 6, 7, 8], cmin=0.5, cmax=8.5, colorscale=cs,
                                     showscale=True,
                                     colorbar=dict(orientation='h', xref='container', yref='container',
                                                   x=841 / W, xanchor='left', y=1 - 4 / H, yanchor='top',
                                                   len=272, lenmode='pixels', thickness=8,
                                                   thicknessmode='pixels', tickmode='array',
                                                   tickvals=[1, 2, 3, 4, 5, 6, 7, 8], ticktext=fm_labels,
                                                   ticks='', outlinewidth=1, outlinecolor='black',
                                                   tickfont=dict(size=12, color='black', family=FONT),
                                                   xpad=0, ypad=0, bgcolor='rgba(0,0,0,0)')),
                         xaxis='x', yaxis='y'))

layout = dict(width=W, height=H, margin=dict(l=0, r=0, t=0, b=0, autoexpand=False), paper_bgcolor='white',
              plot_bgcolor='white', showlegend=False, font=dict(family=FONT, color='black', size=13))
annotations = []
xdom = [XL / W, XR / W]
for idx, p in enumerate(panels):
    n = idx + 1
    ydom = [1 - p['bot'] / H, 1 - p['top'] / H]
    xname, yname = axn('x', n), axn('y', n)
    layout[axn('xaxis', n)] = dict(
        domain=xdom, anchor=yname, type='date', range=x_range, tickmode='array',
        tickvals=month_ticks, ticktext=month_labels, ticks='', showgrid=True, gridcolor='black',
        griddash='2px,2px', gridwidth=1, showline=True, linecolor='black', linewidth=1.2,
        mirror='allticks', zeroline=False, tickfont=dict(size=13, color='black'),
        ticklabelstandoff=p['lab_off'],
        minor=dict(tickmode='linear', tick0='2017-06-06', dtick=1e9, ticks='inside', ticklen=3,
                   tickcolor='black', tickwidth=1, showgrid=False))
    layout[axn('yaxis', n)] = dict(
        domain=ydom, anchor=xname, range=p['yr'], tickmode='array', tickvals=p['tv'],
        ticktext=p['tt'], ticks='', showgrid=True, gridcolor='black', griddash='2px,2px',
        gridwidth=1, showline=True, linecolor='black', linewidth=1.2, mirror='allticks',
        zeroline=False, tickfont=dict(size=14, color='black'),
        minor=dict(tickmode='linear', tick0=p['m0'], dtick=p['md'], ticks='inside', ticklen=9,
                   tickcolor='black', tickwidth=1, showgrid=False))
    # overlay axes carrying the long tick marks
    ox, oy = n + 5, n + 5
    layout[f'xaxis{ox}'] = dict(
        overlaying=xname, anchor=yname, type='date', range=x_range, tickmode='linear',
        tick0='2017-06-06', dtick=1e10, ticks='inside', ticklen=7, tickcolor='black',
        showticklabels=False, showgrid=False, showline=False, zeroline=False, mirror='allticks')
    layout[f'yaxis{oy}'] = dict(
        overlaying=yname, anchor=xname, range=p['yr'], tickmode='array', tickvals=p['long'],
        ticks='inside', ticklen=19, tickcolor='black', showticklabels=False, showgrid=False,
        showline=False, zeroline=False, mirror='allticks', side='left')
    fig.add_trace(go.Scatter(x=[None], y=[None], xaxis=f'x{ox}', yaxis=yname, showlegend=False, hoverinfo='skip'))
    fig.add_trace(go.Scatter(x=[None], y=[None], xaxis=xname, yaxis=f'y{oy}', showlegend=False, hoverinfo='skip'))
    annotations.append(dict(text=p['title'], xref='paper', yref='paper', x=(XL + XR) / 2 / W,
                            y=1 - p['ty'] / H, xanchor='center', yanchor='middle', showarrow=False,
                            font=dict(size=17, color='black')))
    annotations.append(dict(text=p['unit'], xref='paper', yref='paper', x=28 / W,
                            y=1 - (p['top'] + p['bot']) / 2 / H, xanchor='center', yanchor='middle',
                            textangle=-90, showarrow=False, font=dict(size=13, color='black')))

annotations.append(dict(text='FM#', xref='paper', yref='paper', x=837 / W, y=1 - 9 / H, xanchor='right',
                        yanchor='middle', showarrow=False, font=dict(size=11, color='black')))
layout['annotations'] = annotations
layout['shapes'] = [
    dict(type='rect', xref='paper', yref='paper', x0=1119 / W, x1=1124 / W, y0=1 - 239 / H, y1=1 - 231 / H,
         fillcolor='#4F81BD', line=dict(width=0)),
    dict(type='rect', xref='paper', yref='paper', x0=1119 / W, x1=1124 / W, y0=1 - 591 / H, y1=1 - 583 / H,
         fillcolor='#4F81BD', line=dict(width=0)),
]
fig.update_layout(**layout)
fig.write_html('out.html')
